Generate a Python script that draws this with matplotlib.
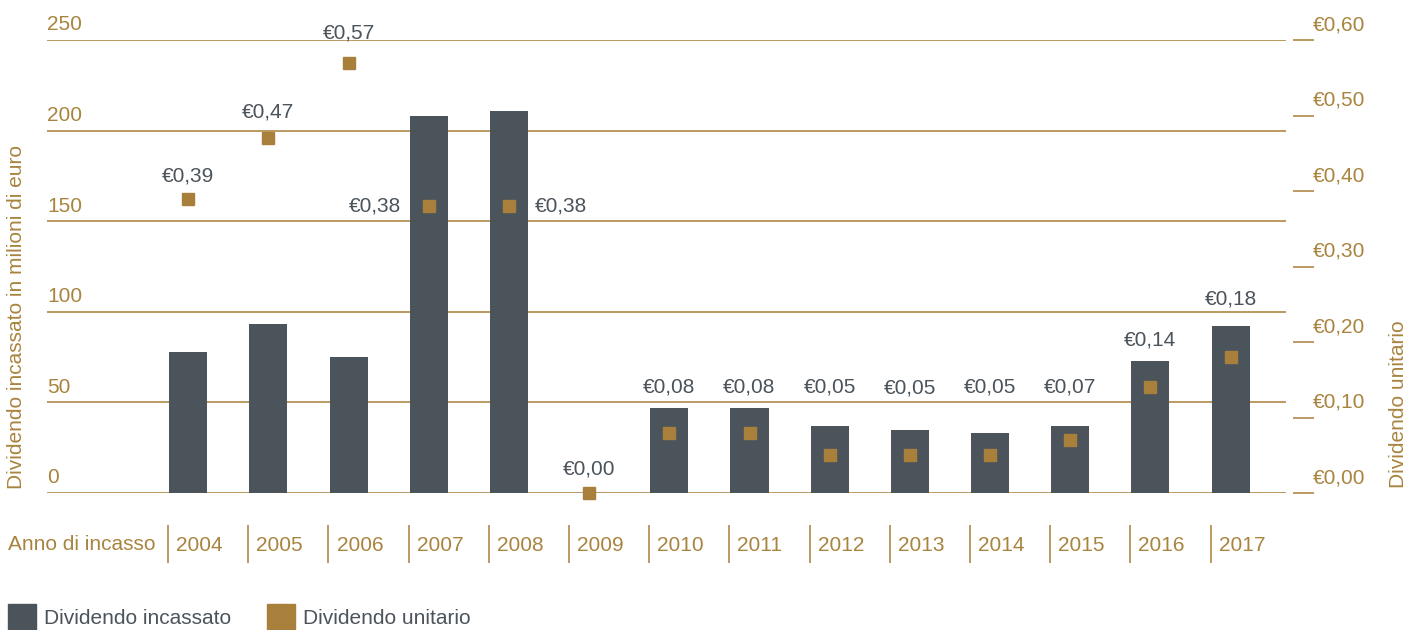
import matplotlib.pyplot as plt
from matplotlib.patches import Rectangle

# data
years = ['2004', '2005', '2006', '2007', '2008', '2009', '2010',
         '2011', '2012', '2013', '2014', '2015', '2016', '2017']
incassato = [78, 93, 75, 208, 211, 0, 47, 47, 37, 35, 33, 37, 73, 92]  # milioni di euro
unitario = [0.39, 0.47, 0.57, 0.38, 0.38, 0.00, 0.08, 0.08, 0.05, 0.05, 0.05, 0.07, 0.14, 0.18]
left_ticks = [0, 50, 100, 150, 200, 250]
right_ticks = [0.0, 0.1, 0.2, 0.3, 0.4, 0.5, 0.6]

# label placement (style): side and gap above the bar / marker in px
label_side = ['top', 'top', 'top', 'left', 'right', 'top', 'top',
              'top', 'top', 'top', 'top', 'top', 'top', 'top']
label_gap = [23, 26, 30, 0, 0, 24, 21, 21, 39, 42, 46, 39, 21, 27]

DARK = '#4b535b'
GOLD = '#a97f3c'
GOLD_TXT = '#a8843f'
GOLD_LINE = '#bb9a60'
FS = 15

plt.rcParams['font.family'] = ['Liberation Sans', 'DejaVu Sans']

W, H = 1412, 630
fig = plt.figure(figsize=(W / 100, H / 100), dpi=100)
ax = fig.add_axes([47 / W, 137 / H, (1286 - 47) / W, (493 - 40) / H])
ax2 = ax.twinx()

x = list(range(len(years)))
bw = 0.474
ax.bar(x, incassato, width=bw, color=DARK, zorder=3)
ax.set_xlim(-1.76, 13.69)
ax.set_ylim(0, 250)
ax.set_yticks(left_ticks)
ax.yaxis.grid(True, color=GOLD_LINE, lw=1.4, zorder=0)
ax.set_axisbelow(True)
ax.tick_params(left=False, right=False, bottom=False, labelleft=False, labelbottom=False)
for s in ax.spines.values():
    s.set_visible(False)

for v in left_ticks:
    ax.annotate(str(v), (0, v), xycoords=ax.get_yaxis_transform(),
                xytext=(0, 4), textcoords='offset points',
                ha='left', va='bottom', color=GOLD_TXT, fontsize=FS)

# category row
xt = ax.get_xaxis_transform()
ax.vlines([i - 0.25 for i in x], -0.0706, -0.1545, transform=xt,
          color=GOLD_LINE, lw=1.4, clip_on=False)
for i, y in zip(x, years):
    ax.text(i - 0.15, -0.1148, y, transform=xt, ha='left', va='center',
            color=GOLD_TXT, fontsize=FS)
fig.text(8 / W, 1 - 545 / H, 'Anno di incasso', ha='left', va='center',
         color=GOLD_TXT, fontsize=FS)

# right axis
ax2.set_ylim(0, 0.6)
ax2.set_xlim(ax.get_xlim())
for s in ax2.spines.values():
    s.set_visible(False)
ax2.tick_params(left=False, right=False, labelleft=False, labelright=False)
yt = ax2.get_yaxis_transform()
x0 = (1293 - 47) / (1286 - 47)
x1 = (1314 - 47) / (1286 - 47)
ax2.hlines(right_ticks, x0, x1, transform=yt, color=GOLD_LINE, lw=1.4, clip_on=False)
for v in right_ticks:
    ax2.annotate('€' + f'{v:.2f}'.replace('.', ','), (x1 - 0.001, v), xycoords=yt,
                 xytext=(0, 4), textcoords='offset points',
                 ha='left', va='bottom', color=GOLD_TXT, fontsize=FS)

ax2.plot(x, unitario, 's', color=GOLD, markersize=8.6, lw=0, clip_on=False, zorder=5)

for i, (b, u, side, gap) in enumerate(zip(incassato, unitario, label_side, label_gap)):
    txt = '€' + f'{u:.2f}'.replace('.', ',')
    if side == 'left':
        ax2.annotate(txt, (i - bw / 2, u), xytext=(-6, 0), textcoords='offset points',
                     ha='right', va='center', color=DARK, fontsize=FS)
    elif side == 'right':
        ax2.annotate(txt, (i + bw / 2, u), xytext=(5, 0), textcoords='offset points',
                     ha='left', va='center', color=DARK, fontsize=FS)
    else:
        top = max(u, b * 0.6 / 250)
        ax2.annotate(txt, (i, top), xytext=(0, gap * 0.72), textcoords='offset points',
                     ha='center', va='center', color=DARK, fontsize=FS)

fig.text(17 / W, 1 - 317 / H, 'Dividendo incassato in milioni di euro', rotation=90,
         ha='center', va='center', color=GOLD_TXT, fontsize=FS)
fig.text(1398 / W, 1 - 404 / H, 'Dividendo unitario', rotation=90,
         ha='center', va='center', color=GOLD_TXT, fontsize=FS)

# legend
fig.add_artist(Rectangle((8 / W, -2 / H), 28 / W, 28 / H, transform=fig.transFigure,
                         color=DARK))
fig.text(44 / W, 1 - 619 / H, 'Dividendo incassato', ha='left', va='center',
         color=DARK, fontsize=FS)
fig.add_artist(Rectangle((267 / W, -2 / H), 28 / W, 28 / H, transform=fig.transFigure,
                         color=GOLD))
fig.text(303 / W, 1 - 619 / H, 'Dividendo unitario', ha='left', va='center',
         color=DARK, fontsize=FS)

fig.savefig('out.png', dpi=100)
